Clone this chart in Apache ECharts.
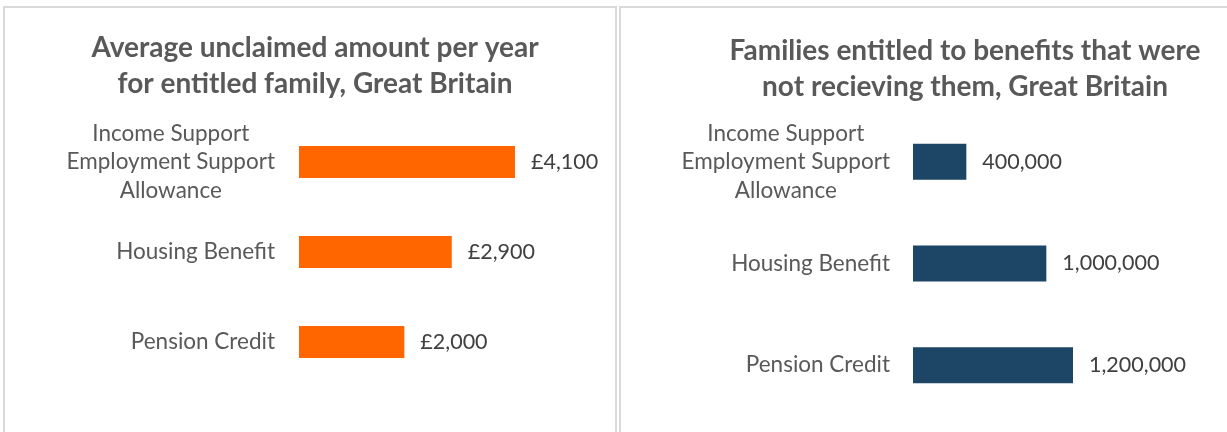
<!DOCTYPE html>
<html>
<head>
<meta charset="utf-8">
<script src="https://cdn.jsdelivr.net/npm/echarts@6/dist/echarts.min.js"></script>
<style>
  html, body { margin: 0; padding: 0; background: #fff; overflow: hidden; width: 1227px; height: 432px; }
  .panel { position: absolute; top: 6px; height: 440px; border: 2px solid #d9d9d9; background: #fff; }
  .chart_left { left: 3px; width: 610px; }
  .chart_right { left: 619px; width: 620px; }
</style>
</head>
<body>
<div class="panel chart_left"></div>
<div class="panel chart_right"></div>
<script>
// data
var categories = ['Income Support\nEmployment Support\nAllowance', 'Housing Benefit', 'Pension Credit'];
var unclaimedAmount = [4100, 2900, 2000];          // £ per year
var familiesNotReceiving = [400000, 1000000, 1200000];

var fontName = 'Lato';
var catSize = 22.5;
var valueSize = 21.5;
var titleSize = 28;

function catLabel(margin) {
  return {
    margin: margin,
    color: '#595959',
    fontFamily: fontName,
    fontSize: catSize,
    lineHeight: 28.5,
    formatter: function (v) {
      // centre each line of a wrapped category, like the original
      return v.split('\n').map(function (s) { return '{c|' + s + '}'; }).join('\n');
    },
    rich: {
      c: { align: 'center', color: '#595959', fontFamily: fontName, fontSize: catSize, lineHeight: 28.5 }
    }
  };
}

function fmt(n) {
  return String(n).replace(/\B(?=(\d{3})+(?!\d))/g, ',');
}

function makeOption(o) {
  return {
    animation: false,
    title: {
      text: o.title,
      left: o.titleX,
      top: o.titleTop,
      textAlign: 'center',
      textStyle: { color: '#595959', fontFamily: fontName, fontWeight: 'bold', fontSize: titleSize, lineHeight: 36 }
    },
    grid: { left: o.gridLeft, top: o.gridTop, width: o.gridWidth, height: o.gridHeight },
    xAxis: {
      type: 'value',
      min: 0,
      max: o.max,
      show: false
    },
    yAxis: {
      type: 'category',
      inverse: true,
      data: categories,
      axisLine: { show: false },
      axisTick: { show: false },
      splitLine: { show: false },
      axisLabel: catLabel(o.labelMargin)
    },
    series: [{
      type: 'bar',
      data: o.data,
      barWidth: o.barWidth,
      itemStyle: { color: o.color },
      label: {
        show: true,
        position: 'right',
        distance: 16,
        color: '#404040',
        fontFamily: fontName,
        fontSize: valueSize,
        formatter: function (p) { return o.prefix + fmt(p.value); }
      }
    }]
  };
}

var myChart1 = echarts.init(document.querySelector('.chart_left'));
myChart1.setOption(makeOption({
  title: 'Average unclaimed amount per year\nfor entitled family, Great Britain',
  titleX: 305, titleTop: 17,
  gridLeft: 294, gridTop: 109, gridWidth: 263.4, gridHeight: 270,
  max: 5000, data: unclaimedAmount, barWidth: 32,
  color: '#ff6600', prefix: '£', labelMargin: 24
}));

var myChart2 = echarts.init(document.querySelector('.chart_right'));
myChart2.setOption(makeOption({
  title: 'Families entitled to benefits that were\nnot recieving them, Great Britain',
  titleX: 339, titleTop: 20,
  gridLeft: 292, gridTop: 103, gridWidth: 200, gridHeight: 305,
  max: 1500000, data: familiesNotReceiving, barWidth: 36,
  color: '#1d4566', prefix: '', labelMargin: 23
}));
</script>
</body>
</html>
